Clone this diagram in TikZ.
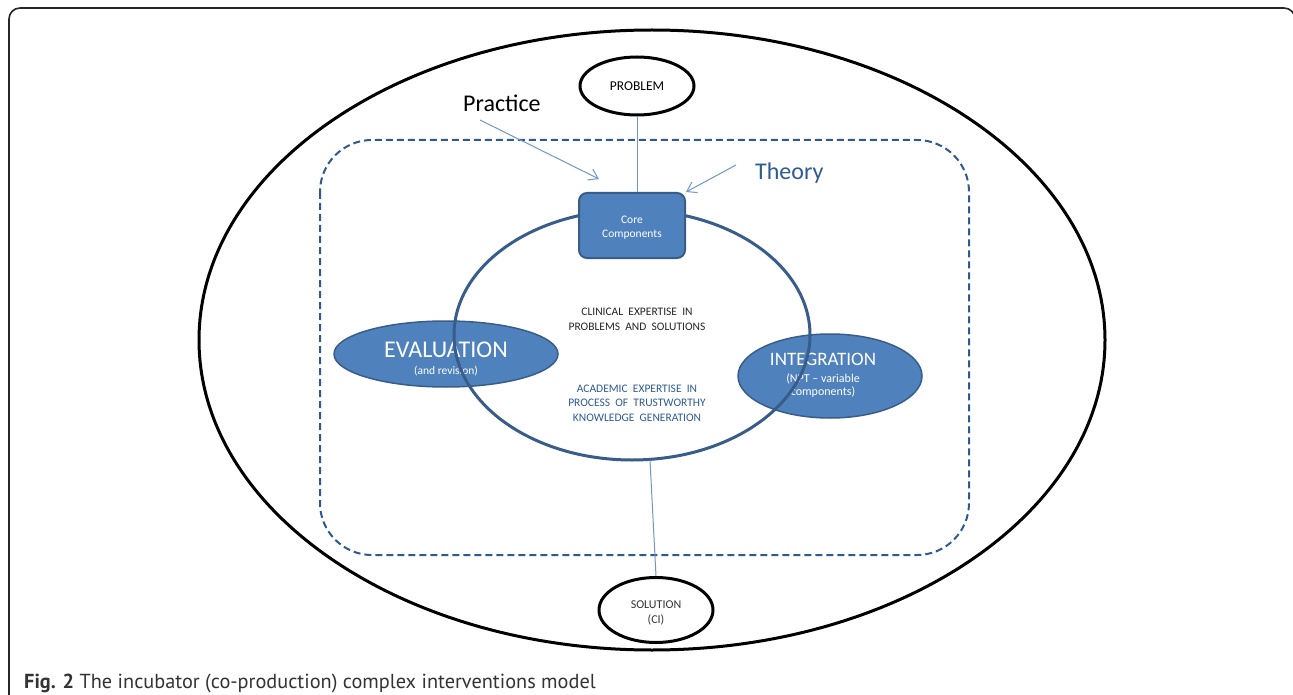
\documentclass[tikz,border=0pt]{standalone}
\usepackage{fontspec}
\setmainfont{Carlito}
\newfontfamily\capfont{PT Sans}
\usetikzlibrary{arrows.meta,shapes.geometric}
\definecolor{ofill}{HTML}{4F81BD}
\definecolor{ostroke}{HTML}{385D8A}
\definecolor{dashblue}{HTML}{2F5A8F}
\definecolor{txtblue}{HTML}{2E5B93}
\definecolor{lineblue}{HTML}{6F97C8}
\tikzset{
  blackell/.style={draw=black, line width=3pt, ellipse, fill=white, inner sep=0pt},
  blueell/.style={draw=ostroke, line width=1.5pt, ellipse, fill=ofill, inner sep=0pt},
  conn/.style={draw=lineblue, line width=1pt},
  arr/.style={draw=lineblue, line width=1pt, -{Straight Barb[length=9pt,width=12pt]}},
  wtxt/.style={text=white, align=center, inner sep=0pt, anchor=base},
  ctxt/.style={align=center, inner sep=0pt, anchor=base},
}
\begin{document}
\begin{tikzpicture}[x=1pt,y=-1pt]
\useasboundingbox[fill=white] (0,0) rectangle (1293,695);
% frame
\draw[line width=1.6pt, black!85, rounded corners=11] (9,720) -- (9,8) -- (1295,8) -- (1295,720);
% outer ellipse
\node[draw=black, line width=3pt, ellipse, inner sep=0pt, minimum width=906, minimum height=620] (outer) at (652,340) {};
% dashed rounded rectangle
\draw[dashblue, line width=2pt, dash pattern=on 7pt off 4pt, rounded corners=52] (320,140) rectangle (969,555);
% evaluation and integration
\node[blueell, minimum width=224, minimum height=66] (eval) at (446,354) {};
\node[blueell, minimum width=184, minimum height=84] (integ) at (830,376) {};
\node[wtxt, font=\fontsize{24}{28}\selectfont] (evalt) at (446,357) {EVALUATION};
\node[wtxt, font=\fontsize{11.5}{14}\selectfont] (evals) at (446,374) {(and revision)};
\node[wtxt, font=\fontsize{19}{22}\selectfont] (integt) at (823,365) {INTEGRATION};
\node[wtxt, font=\fontsize{12}{13.5}\selectfont] (integs) at (823,395.5) {(NPT -- variable\\components)};
% central ellipse
\node[draw=ostroke, line width=3pt, ellipse, inner sep=0pt, minimum width=356, minimum height=250] (central) at (632,335) {};
% core components
\node[draw=ostroke, line width=2pt, fill=ofill, rounded corners=8, minimum width=106, minimum height=65, inner sep=0pt] (core) at (632,225.5) {};
\node[wtxt, font=\fontsize{11.5}{13.5}\selectfont] (coret) at (632,237.5) {Core\\Components};
% problem / solution
\node[blackell, minimum width=114, minimum height=58] (prob) at (637,86) {};
\node[ctxt, font=\fontsize{13.5}{15}\selectfont] (probt) at (637,90.5) {PROBLEM};
\node[blackell, minimum width=114, minimum height=65] (sol) at (656,610) {};
\node[ctxt, font=\fontsize{12}{15}\selectfont, text=black!80] (solt) at (656,623) {SOLUTION\\(CI)};
% central texts
\node[ctxt, font=\fontsize{11.5}{15}\selectfont, text=black!85] (clin) at (637,330) {CLINICAL\ \ EXPERTISE\ \ IN\\PROBLEMS\ \ AND\ \ SOLUTIONS};
\node[ctxt, font=\fontsize{11.5}{14.5}\selectfont, text=txtblue] (acad) at (637,421) {ACADEMIC\ \ EXPERTISE\ \ IN\\PROCESS\ \ OF\ \ TRUSTWORTHY\\KNOWLEDGE\ \ GENERATION};
% practice / theory
\node[inner sep=0pt, anchor=base west, font=\fontsize{24}{28}\selectfont] (prac) at (463,112) {Practice};
\node[inner sep=0pt, anchor=base west, font=\fontsize{24}{28}\selectfont, text=txtblue] (theo) at (755,180) {Theory};
\coordinate (pracs) at (480,120);
\coordinate (pract) at (599,179);
\coordinate (theos) at (736,165);
\coordinate (cbot) at (650,460);
% connectors
\draw[conn] (prob.south) -- (prob.south |- core.north);
\draw[conn] (cbot) -- (sol.north);
\draw[arr] (pracs) -- (pract);
\draw[arr] (theos) -- (core.north east);
% caption
\node[inner sep=0pt, anchor=base west, font=\capfont\fontsize{20.3}{24}\selectfont, text=black!80] (cap) at (24,688) {\textbf{Fig. 2} The incubator (co-production) complex interventions model};
\end{tikzpicture}
\end{document}
